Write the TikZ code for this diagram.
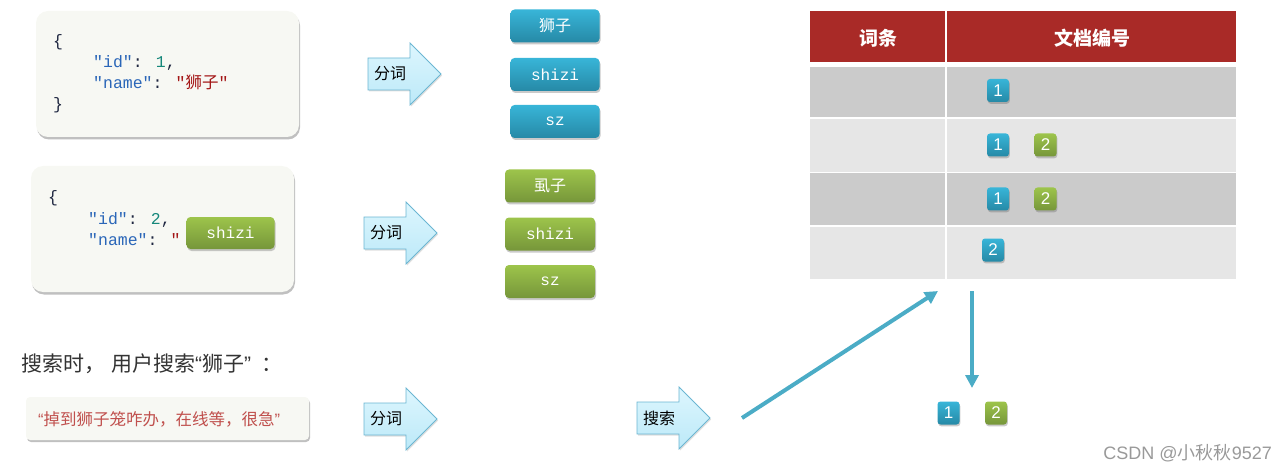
\documentclass[tikz,border=0pt]{standalone}
\usepackage{fontspec}
\setmainfont{Liberation Sans}
\newfontfamily\cjk{Noto Sans CJK SC}
\newfontfamily\mono{Liberation Mono}
\newfontfamily\latn{Liberation Sans}
\usetikzlibrary{shadows,arrows.meta}
\definecolor{codebg}{HTML}{F7F8F3}
\definecolor{bluetop}{HTML}{38B5D8}
\definecolor{bluebot}{HTML}{2689A6}
\definecolor{greentop}{HTML}{9DC44B}
\definecolor{greenbot}{HTML}{76963A}
\definecolor{arrtop}{HTML}{DDF6FE}
\definecolor{arrbot}{HTML}{BCE9F8}
\definecolor{arrline}{HTML}{6BB6D2}
\definecolor{hdr}{HTML}{A92A27}
\definecolor{rowd}{HTML}{CBCBCB}
\definecolor{rowl}{HTML}{E6E6E6}
\definecolor{teal}{HTML}{4BACC6}
\definecolor{keyc}{HTML}{2A66B8}
\definecolor{numc}{HTML}{15877A}
\definecolor{strc}{HTML}{A31515}
\definecolor{punc}{HTML}{1E2640}
\definecolor{redtxt}{HTML}{C0504D}
\newcommand{\myLq}{{\latn “}}
\newcommand{\myRq}{{\latn ”}}
\begin{document}
\begin{tikzpicture}[x=1pt,y=-1pt,
  codebox/.style={rounded corners=12pt, fill=codebg, drop shadow={shadow xshift=1pt,shadow yshift=-2.5pt,opacity=0.45,fill=black!55}},
  codetxt/.style={anchor=base west, inner sep=0pt, font=\mono\fontsize{16.5}{16.5}\selectfont},
  tbox/.style={rounded corners=4pt, draw=none, text=white, minimum height=33pt, inner sep=0pt,
     drop shadow={shadow xshift=1pt,shadow yshift=-2pt,opacity=0.35,fill=black!60}},
  bluebox/.style={tbox, top color=bluetop, bottom color=bluebot},
  greenbox/.style={tbox, top color=greentop, bottom color=greenbot},
  termtxt/.style={font=\mono\fontsize{16}{16}\selectfont},
  badge/.style={rounded corners=3pt, text=white, minimum width=22pt, minimum height=23pt, inner sep=0pt,
     font=\fontsize{17}{17}\selectfont,
     drop shadow={shadow xshift=0.8pt,shadow yshift=-1.8pt,opacity=0.35,fill=black!60}},
  bbadge/.style={badge, top color=bluetop, bottom color=bluebot},
  gbadge/.style={badge, top color=greentop, bottom color=greenbot},
  arrshape/.style={top color=arrtop, bottom color=arrbot, draw=arrline, line width=0.8pt,
     drop shadow={shadow xshift=1pt,shadow yshift=-1.5pt,opacity=0.25,fill=black!50}},
  arrlbl/.style={font=\cjk\fontsize{16}{16}\selectfont, inner sep=0pt},
  conn/.style={draw=teal, line width=4pt, -{Triangle[length=13pt,width=13pt]}},
  hdrtxt/.style={text=white, font=\cjk\bfseries\fontsize{19}{19}\selectfont},
]
\path[use as bounding box] (0,0) rectangle (1287,473);

% ---- code box 1
\path[codebox] (36,11) rectangle (299,137);
\node[codetxt] (c1a) at (53,47) {\textcolor{punc}{\{}};
\node[codetxt] (c1b) at (93,68) {\textcolor{keyc}{"id"}\textcolor{punc}{:} \textcolor{numc}{1}\textcolor{punc}{,}};
\node[codetxt] (c1c) at (93,89) {\textcolor{keyc}{"name"}\textcolor{punc}{:} \textcolor{strc}{"{\cjk 狮子}"}};
\node[codetxt] (c1d) at (53,110) {\textcolor{punc}{\}}};

% ---- code box 2
\path[codebox] (31,166) rectangle (294,292);
\node[codetxt] (c2a) at (48,203) {\textcolor{punc}{\{}};
\node[codetxt] (c2b) at (88,224) {\textcolor{keyc}{"id"}\textcolor{punc}{:} \textcolor{numc}{2}\textcolor{punc}{,}};
\node[codetxt] (c2c) at (88,245) {\textcolor{keyc}{"name"}\textcolor{punc}{:} \textcolor{strc}{"}};
\node[greenbox, termtxt, minimum width=88pt, minimum height=32pt] (ov) at (230.5,233) {shizi};

% ---- split arrows
\newcommand{\splitarrow}[4]{%
  \path[arrshape] (#2,#3-16) -- (#2+42,#3-16) -- (#2+42,#3-31) -- (#2+73,#3) -- (#2+42,#3+31) -- (#2+42,#3+16) -- (#2,#3+16) -- cycle;
  \node[arrlbl] (#1) at (#2+22,#3) {#4};}
\splitarrow{a1}{368}{74}{分词}
\splitarrow{a2}{364}{233}{分词}
\splitarrow{a3}{364}{419}{分词}
\splitarrow{a4}{637}{418}{搜索}

% ---- term boxes
\node[bluebox, minimum width=89pt, font=\cjk\fontsize{16}{16}\selectfont] (t1) at (555,26) {狮子};
\node[bluebox, termtxt, minimum width=89pt] (t2) at (555,74.5) {shizi};
\node[bluebox, termtxt, minimum width=89pt] (t3) at (555,121.5) {sz};
\node[greenbox, minimum width=90pt, font=\cjk\fontsize{16}{16}\selectfont] (g1) at (550,186) {虱子};
\node[greenbox, termtxt, minimum width=90pt] (g2) at (550,234) {shizi};
\node[greenbox, termtxt, minimum width=90pt] (g3) at (550,281.5) {sz};

% ---- table
\fill[hdr] (810,11) rectangle (945.3,62);
\fill[hdr] (946.7,11) rectangle (1236,62);
\fill[rowd] (810,67) rectangle (945.3,117);
\fill[rowd] (946.7,67) rectangle (1236,117);
\fill[rowl] (810,119) rectangle (945.3,172);
\fill[rowl] (946.7,119) rectangle (1236,172);
\fill[rowd] (810,173.5) rectangle (945.3,225);
\fill[rowd] (946.7,173.5) rectangle (1236,225);
\fill[rowl] (810,227) rectangle (945.3,279);
\fill[rowl] (946.7,227) rectangle (1236,279);
\node[hdrtxt] (h1) at (878,38) {词条};
\node[hdrtxt] (h2) at (1092,38) {文档编号};

\node[bbadge] (r1a) at (998,90.5) {1};
\node[bbadge] (r2a) at (998,145) {1};
\node[gbadge] (r2b) at (1045.5,145) {2};
\node[bbadge] (r3a) at (998,199) {1};
\node[gbadge] (r3b) at (1045.5,199) {2};
\node[bbadge] (r4a) at (993,250) {2};

% ---- search
\node[anchor=west, inner sep=0pt, text=black!80, font=\cjk\fontsize{21}{21}\selectfont] (q) at (21,364) {搜索时，\hspace{6pt}用户搜索\myLq 狮子\myRq\hspace{10pt}：};
\path[rounded corners=4pt, fill=codebg, drop shadow={shadow xshift=1pt,shadow yshift=-2pt,opacity=0.45,fill=black!55}] (26,397) rectangle (309,440);
\node[anchor=west, inner sep=0pt, text=redtxt, font=\cjk\fontsize{16.5}{16.5}\selectfont] (qs) at (38,419) {\myLq 掉到狮子笼咋办，在线等，很急\myRq};

\coordinate (s0) at (742,418);
\coordinate (s1) at (938,291);
\coordinate (d0) at (972,291);
\coordinate (d1) at (972,388);
\draw[conn] (s0) -- (s1);
\draw[conn] (d0) -- (d1);

\node[bbadge] (res1) at (948.5,413) {1};
\node[gbadge] (res2) at (996,413) {2};

\node[anchor=east, inner sep=0pt, text=black!40, font=\latn\fontsize{18}{18}\selectfont] (wm) at (1272,453) {CSDN @{\cjk 小秋秋}9527};
\end{tikzpicture}
\end{document}
